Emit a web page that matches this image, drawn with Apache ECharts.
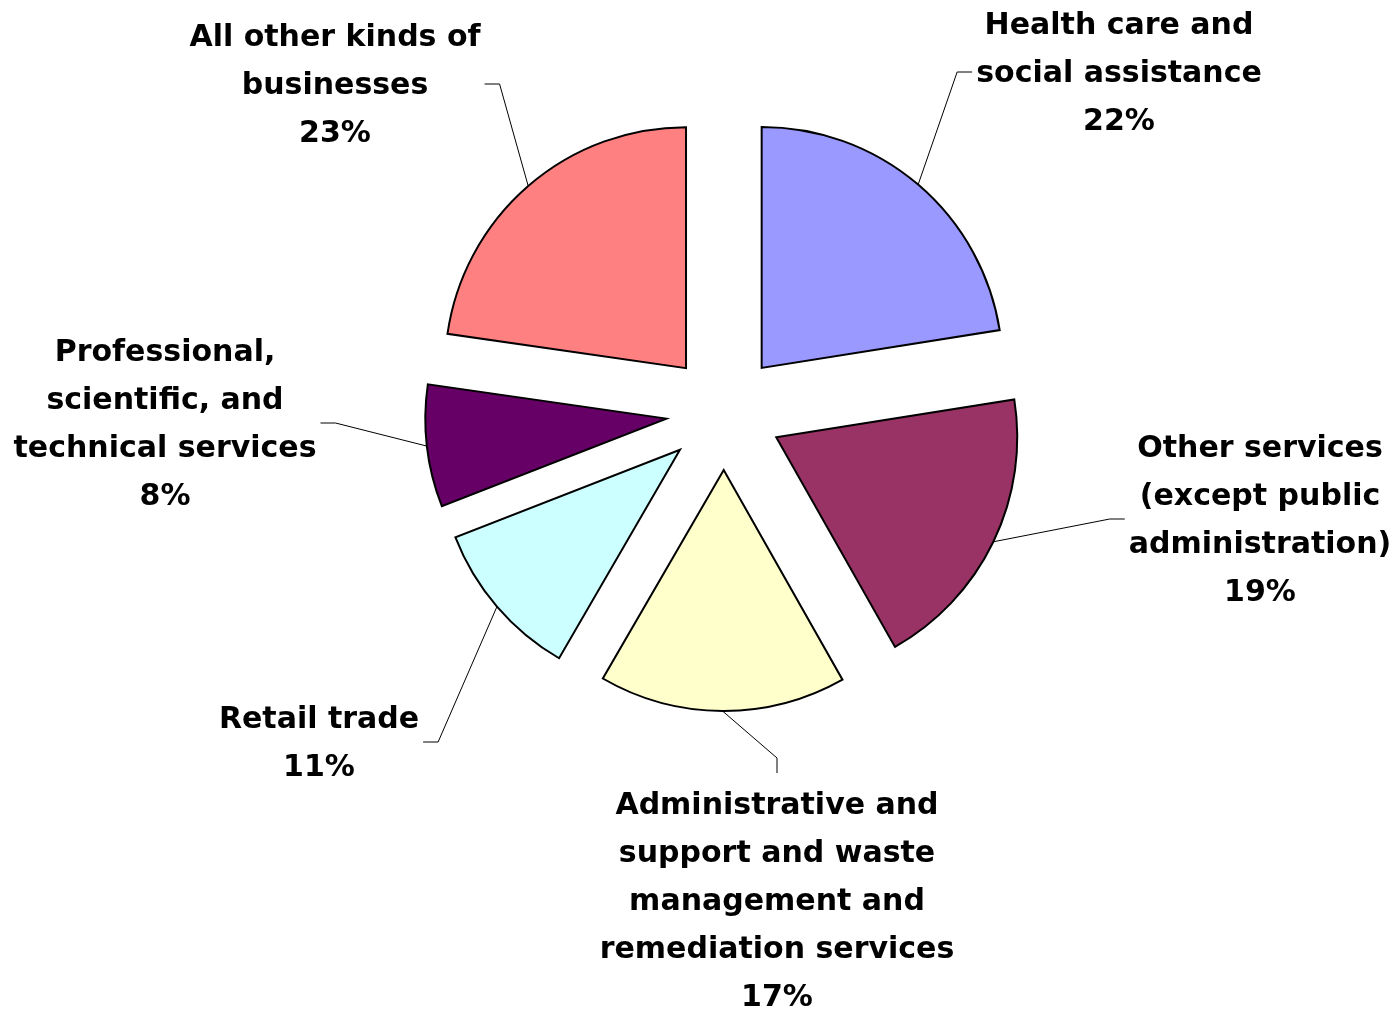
<!DOCTYPE html>
<html>
<head>
<meta charset="utf-8">
<script src="https://cdn.jsdelivr.net/npm/echarts@6/dist/echarts.min.js"></script>
<style>
html,body{margin:0;padding:0;background:#fff;}
#chart{width:1397px;height:1012px;}
</style>
</head>
<body>
<div id="chart"></div>
<script>
// ---- data ----
const categories = [
  'Health care and\nsocial assistance',
  'Other services\n(except public\nadministration)',
  'Administrative and\nsupport and waste\nmanagement and\nremediation services',
  'Retail trade',
  'Professional,\nscientific, and\ntechnical services',
  'All other kinds of\nbusinesses'
];
const shares = [22.49, 19.3, 16.56, 10.72, 8.19, 22.72];
const colors = ['#9999FF', '#993366', '#FFFFCC', '#CCFFFF', '#660066', '#FF8080'];

// ---- layout ----
const CX = 724, CY = 412, R = 241, OFFSET = 58;
const labelCenters = [[1119, 74], [1260, 521], [777, 902], [319, 744], [165, 425], [335, 86]];
const lineSide = ['left', 'left', 'top', 'right', 'right', 'right'];
const GAP = 4, GAP_TOP = 9, SEG = 15;

const chart = echarts.init(document.getElementById('chart'), null, {renderer: 'canvas'});
chart.setOption({
  animation: false,
  backgroundColor: '#ffffff',
  series: [
    {
      type: 'pie',
      center: [CX, CY],
      radius: R,
      startAngle: 90,
      clockwise: true,
      selectedMode: 'multiple',
      selectedOffset: OFFSET,
      silent: true,
      itemStyle: {borderColor: '#000', borderWidth: 2, borderJoin: 'miter'},
      emphasis: {disabled: true},
      label: {show: false},
      labelLine: {show: false},
      data: categories.map((c, i) => ({
        name: c, value: shares[i], selected: true,
        itemStyle: {color: colors[i]}
      }))
    },
    {
      type: 'pie',
      center: [CX, CY],
      radius: R,
      startAngle: 90,
      clockwise: true,
      silent: true,
      z: 3,
      avoidLabelOverlap: false,
      percentPrecision: 0,
      itemStyle: {color: 'rgba(0,0,0,0)', borderWidth: 0},
      emphasis: {disabled: true},
      label: {
        show: true,
        position: 'outside',
        formatter: '{b}\n{d}%',
        fontFamily: 'DejaVu Sans, sans-serif',
        fontWeight: 'bold',
        fontSize: 30,
        lineHeight: 48,
        color: '#000',
        align: 'center'
      },
      labelLine: {show: true, length: 20, length2: 15, smooth: false,
                  lineStyle: {color: '#000', width: 1}},
      labelLayout: function (p) {
        const i = p.dataIndex;
        const lx = labelCenters[i][0], ly = labelCenters[i][1];
        const w = p.labelRect.width, h = p.labelRect.height;
        const p0 = p.labelLinePoints ? p.labelLinePoints[0] : [CX, CY];
        const vx = p0[0] - CX, vy = p0[1] - CY;
        const len = Math.hypot(vx, vy) || 1;
        const s = [p0[0] + vx / len * OFFSET, p0[1] + vy / len * OFFSET];
        let end, bend;
        if (lineSide[i] === 'left') {
          end = [lx - w / 2 - GAP, ly - 2]; bend = [end[0] - SEG, ly - 2];
        } else if (lineSide[i] === 'right') {
          end = [lx + w / 2 + GAP, ly - 2]; bend = [end[0] + SEG, ly - 2];
        } else {
          end = [lx, ly - h / 2 - GAP_TOP]; bend = [lx, end[1] - SEG];
        }
        return {x: lx, y: ly, align: 'center', verticalAlign: 'middle',
                labelLinePoints: [s, bend, end]};
      },
      data: categories.map((c, i) => ({name: c, value: shares[i]}))
    }
  ]
});
</script>
</body>
</html>
